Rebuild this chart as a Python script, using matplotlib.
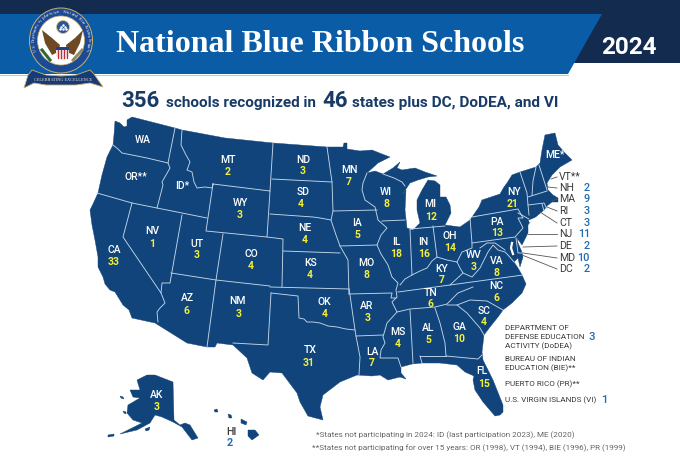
"""National Blue Ribbon Schools 2024 map, outlines traced in image pixels."""

import matplotlib
matplotlib.use("Agg")
import matplotlib.pyplot as plt
import numpy as np
from matplotlib.patches import Ellipse, Polygon, Circle

NAVY = "#132b4e"
SUBTITLE = "#173a66"
BANNER = "#0a5ca6"
MAP_BLUE = "#10447a"
BORDER = "#c3d5e8"
YELLOW = "#f4ee3a"
COUNT_BLUE = "#1f6cb0"
DARK_TEXT = "#3a3a3a"
FONT = "Roboto"

# Schools per state
STATES = ["WA", "OR**", "ID*", "MT", "ND", "SD", "WY", "NV", "UT", "CO", "CA", "AZ", "NM",
          "NE", "KS", "OK", "TX", "MN", "IA", "MO", "AR", "LA", "WI", "IL", "MI", "IN",
          "OH", "KY", "TN", "MS", "AL", "GA", "FL", "SC", "NC", "VA", "WV", "PA", "NY",
          "ME*", "AK"]
COUNTS = [None, None, None, 2, 3, 4, 3, 1, 3, 4, 33, 6, 3,
          4, 4, 4, 31, 7, 5, 8, 3, 7, 8, 18, 12, 16,
          14, 7, 6, 4, 5, 10, 15, 4, 6, 8, 3, 13, 21,
          None, 3]

SIDE_STATES = ["VT**", "NH", "MA", "RI", "CT", "NJ", "DE", "MD", "DC"]
SIDE_COUNTS = [None, 2, 9, 3, 3, 11, 2, 10, 2]

# Where the labels sit on the map (name xy, count xy)
LABEL_POS = {
    "WA": (143, 140, 0, 0), "OR**": (136, 177, 0, 0), "ID*": (182, 186, 0, 0),
    "MT": (228, 160, 228, 172), "ND": (303, 160, 303, 171), "SD": (303, 192, 301, 204),
    "WY": (240, 203, 240, 215), "NV": (152, 231, 152, 244), "UT": (197, 244, 197, 255),
    "CO": (251, 254, 251, 266), "CA": (114, 250, 114, 262), "AZ": (187, 298, 186, 311),
    "NM": (238, 301, 239, 314), "NE": (305, 228, 305, 240), "KS": (311, 263, 310, 275),
    "OK": (324, 302, 325, 314), "TX": (310, 350, 309, 363), "MN": (349, 170, 349, 182),
    "IA": (357, 223, 357, 235), "MO": (366, 263, 367, 275), "AR": (367, 306, 368, 318),
    "LA": (372, 352, 372, 363), "WI": (386, 192, 387, 204), "IL": (396, 242, 396, 254),
    "MI": (430, 204, 431, 217), "IN": (423, 242, 424, 254), "OH": (450, 236, 450, 248),
    "KY": (442, 269, 442, 280), "TN": (431, 293, 430, 304), "MS": (398, 332, 398, 344),
    "AL": (428, 328, 428, 340), "GA": (459, 327, 459, 339), "FL": (482, 371, 484, 384),
    "SC": (484, 311, 484, 322), "NC": (496, 286, 496, 298), "VA": (497, 261, 497, 273),
    "WV": (474, 255, 474, 267), "PA": (497, 222, 497, 233), "NY": (514, 192, 513, 204),
    "ME*": (555, 155, 0, 0), "AK": (157, 395, 157, 407),
}
SIDE_Y = [177, 188, 199, 211, 223, 234, 246, 258, 269]
LEADERS = [(551, 179), (548, 187), (552, 201), (547, 207), (540, 212),
           (528, 234), (523, 247), (523, 253), (522, 255)]

# Map geometry
MAINLAND = [
    (115, 121), (120, 123), (124, 127), (127, 126), (127, 120), (132, 117), (175, 128), (182, 130),
    (225, 138), (273, 143), (327, 147), (343, 147), (344, 143), (347, 143), (347, 149), (360, 151),
    (372, 150), (382, 154), (390, 157), (378, 163), (367, 173), (375, 171), (383, 174), (393, 168),
    (400, 162), (397, 168), (402, 170), (415, 168), (425, 172), (437, 176), (428, 177), (418, 180),
    (410, 183), (402, 195), (406, 190), (405, 210), (407, 228), (413, 230), (420, 223), (417, 210),
    (417, 200), (422, 190), (428, 180), (435, 181), (440, 185), (440, 197), (446, 197), (450, 205),
    (451, 213), (445, 225), (460, 227), (470, 220), (479, 207), (482, 200), (500, 194), (504, 187),
    (507, 183), (512, 175), (520, 172), (536, 167), (540, 163), (542, 150), (545, 135), (555, 133),
    (558, 145), (565, 153), (572, 160), (560, 167), (552, 175), (547, 183), (548, 190), (553, 195),
    (558, 198), (558, 202), (552, 202), (547, 206), (544, 210), (530, 222),
    (528, 225), (528, 233), (522, 245), (517, 238), (518, 243), (522, 252), (523, 257), (520, 267),
    (518, 258), (514, 262), (518, 268), (522, 275), (526, 284), (522, 293), (512, 303), (503, 310),
    (498, 317), (490, 327), (484, 335), (482, 352), (483, 360), (493, 380), (503, 405), (503, 412),
    (500, 415), (495, 416), (483, 402), (475, 390), (473, 380), (474, 376), (465, 372), (457, 365),
    (440, 363), (422, 363), (412, 364), (401, 367), (401, 373), (406, 379), (400, 377), (388, 380),
    (380, 375), (372, 376), (357, 375), (340, 382), (323, 395), (320, 407), (323, 420), (308, 416),
    (300, 402), (297, 393), (282, 373), (270, 372), (263, 380), (252, 373), (247, 358), (233, 345),
    (217, 343), (215, 347), (207, 347), (187, 343), (155, 323), (132, 318), (129, 310), (123, 305),
    (115, 292), (110, 290), (105, 284), (103, 277), (98, 267), (98, 257), (95, 240), (92, 225),
    (90, 210), (93, 204), (98, 193), (102, 175), (107, 157), (113, 145), (114, 135),
]
ALASKA = [
    (137, 380), (147, 375), (155, 375), (173, 382), (174, 420), (180, 425), (185, 423), (190, 425),
    (198, 438), (192, 440), (182, 427), (173, 422), (162, 417), (155, 415), (150, 423), (137, 430),
    (120, 434), (128, 430), (142, 423), (133, 420), (127, 413), (128, 405), (140, 398), (133, 397),
    (130, 390), (140, 390),
]
ISLANDS = [
    [(120, 396), (123, 397), (124, 399), (121, 398)],
    [(123, 411), (126, 412), (126, 414), (124, 413)],
    [(145, 429), (150, 427), (149, 430), (146, 431)],
    [(108, 435), (114, 434), (114, 436), (108, 437)],
    [(248, 430), (255, 430), (259, 435), (252, 440), (248, 436)],
    [(241, 419), (247, 422), (246, 425), (241, 423)],
    [(228, 414), (231, 415), (232, 418), (229, 418)],
    [(214, 410), (217, 409), (218, 412), (215, 412)],
]
BORDERS = [
    [(113, 145), (118, 149), (122, 153), (147, 158), (168, 163)],
    [(175, 128), (168, 163), (170, 168), (162, 182), (163, 185), (157, 208)],
    [(97, 193), (132, 203), (157, 208), (207, 218)],
    [(182, 130), (181, 145), (186, 155), (190, 162), (187, 170), (192, 172), (194, 182), (197, 188),
     (205, 187), (212, 188), (213, 184)],
    [(213, 184), (270, 191), (267, 237), (206, 231), (213, 184)],
    [(132, 203), (123, 237), (161, 293), (165, 303), (160, 308), (157, 312), (158, 322)],
    [(161, 293), (162, 283), (170, 283), (182, 215)],
    [(171, 273), (216, 280), (270, 286)],
    [(223, 234), (216, 280), (207, 347)],
    [(271, 293), (268, 345), (233, 343)],
    [(273, 143), (270, 191)],
    [(272, 179), (332, 182)],
    [(270, 214), (313, 217), (320, 218), (331, 220)],
    [(267, 237), (283, 239), (282, 287)],
    [(283, 251), (340, 253)],
    [(270, 287), (349, 289)],
    [(271, 293), (298, 296), (299, 318), (304, 319), (307, 322), (313, 322), (320, 323), (328, 326),
     (337, 327), (346, 329), (355, 330)],
    [(349, 289), (350, 295), (355, 330), (356, 336), (360, 357), (359, 375)],
    [(327, 147), (332, 182), (333, 211), (331, 220), (336, 235), (340, 246), (348, 260), (349, 294)],
    [(333, 211), (377, 210)],
    [(340, 246), (377, 245)],
    [(367, 173), (363, 183), (362, 190), (365, 200), (375, 207), (378, 220), (387, 228), (381, 235),
     (377, 245), (381, 254), (388, 265), (392, 277), (398, 283), (396, 290), (397, 297), (392, 302),
     (397, 312), (387, 323), (383, 337), (385, 343), (381, 350), (380, 358), (398, 358), (401, 367)],
    [(349, 294), (392, 293), (391, 298), (396, 298)],
    [(356, 336), (383, 335)],
    [(382, 221), (405, 220)],
    [(383, 174), (394, 178), (402, 182), (405, 186)],
    [(410, 229), (412, 275), (405, 279), (400, 285)],
    [(412, 275), (420, 271), (427, 268), (432, 261), (437, 257), (447, 260), (457, 262), (460, 268),
     (463, 273), (450, 285)],
    [(433, 226), (437, 257)],
    [(410, 229), (445, 226)],
    [(398, 292), (450, 285), (523, 275)],
    [(473, 287), (458, 293), (447, 304), (435, 307), (410, 309), (397, 312)],
    [(410, 310), (413, 363)],
    [(435, 308), (440, 323), (445, 343), (446, 356), (478, 359), (482, 355)],
    [(420, 356), (446, 356)],
    [(420, 356), (422, 363)],
    [(447, 305), (457, 305), (470, 300), (487, 301), (503, 310)],
    [(457, 305), (467, 313), (480, 328), (484, 335)],
    [(470, 218), (472, 243), (472, 248), (462, 252), (457, 262)],
    [(472, 217), (518, 209), (523, 218), (518, 218), (523, 228), (515, 237), (472, 243)],
    [(463, 273), (472, 277), (480, 268), (488, 252), (493, 245), (498, 250), (505, 252), (508, 255), (514, 262)],
    [(480, 248), (487, 243), (495, 243), (505, 250)],
    [(516, 238), (518, 253), (523, 253)],
    [(518, 213), (529, 219)],
    [(520, 172), (527, 193), (528, 205), (529, 215)],
    [(528, 197), (547, 191)],
    [(528, 205), (544, 203), (547, 209)],
    [(542, 204), (544, 211)],
    [(536, 167), (533, 181), (532, 195)],
    [(539, 165), (547, 190)],
]
WATER_CUTS = [
    [(530, 221), (537, 218), (543, 213)],
    [(512, 243), (511, 248), (513, 254)],
]

fig = plt.figure(figsize=(6.8, 4.75), dpi=100)
ax = fig.add_axes([0, 0, 1, 1])
ax.set_xlim(0, 680)
ax.set_ylim(475, 0)
ax.axis("off")


def draw_banner():
    ax.add_patch(Polygon([(0, 0), (680, 0), (680, 63), (0, 63)], fc=NAVY, ec="none", zorder=1))
    ax.add_patch(Polygon([(0, 14), (602, 14), (568, 74), (0, 74)], fc=BANNER, ec="none", zorder=2))
    ax.plot([0, 568], [74.5, 74.5], color="#a9d2f0", lw=0.8, zorder=2)
    ax.text(320.5, 45, "National Blue Ribbon Schools", family="Liberation Serif", weight="bold",
            fontsize=23, color="white", ha="center", va="center", zorder=3)
    ax.text(629, 47, "2024", family=FONT, weight="bold", fontsize=17.5, color="white",
            ha="center", va="center", zorder=3)


def draw_seal():
    cx, cy = 61, 40.5
    ax.add_patch(Ellipse((cx, cy), 63, 65, fc="#1d4a94", ec="#c9b26a", lw=0.7, zorder=4))
    ax.add_patch(Ellipse((cx, cy), 47, 49, fc="white", ec="#c9b26a", lw=0.5, zorder=5))
    ax.add_patch(Polygon([(42, 30), (52, 38), (60, 45), (58, 52), (52, 55), (45, 43)],
                         fc="#6d4a25", ec="none", zorder=6))
    ax.add_patch(Polygon([(83, 30), (75, 38), (66, 45), (67, 52), (74, 55), (80, 43)],
                         fc="#6d4a25", ec="none", zorder=6))
    ax.add_patch(Circle((63, 27), 6.5, fc="#2f5597", ec="#d8c67e", lw=0.6, zorder=6))
    ax.scatter([63, 61, 65, 60, 66, 63], [25, 27, 27, 29, 29, 29], s=0.6, c="white", zorder=7)
    ax.add_patch(Circle((60, 40), 3, fc="white", ec="none", zorder=7))
    ax.add_patch(Polygon([(56, 47), (69, 47), (69, 56), (62.5, 61), (56, 56)], fc="#f3e6e6", ec="none", zorder=7))
    ax.add_patch(Polygon([(56, 47), (69, 47), (69, 50), (56, 50)], fc="#23407f", ec="none", zorder=8))
    for x in (58, 61, 64, 67):
        ax.plot([x, x], [50, 58], color="#b5303a", lw=0.9, zorder=8)
    ax.plot([42, 50], [50, 60], color="#2f6b2f", lw=2.2, zorder=6)
    ax.plot([82, 73], [50, 60], color="#8f8668", lw=2.0, zorder=6)
    # ring lettering, one glyph at a time along the arc
    ring = "U.S. Department of Education   National Blue Ribbon Schools"
    angles = np.linspace(200, -20, len(ring))
    for ch, a in zip(ring, angles):
        t = np.radians(a)
        ax.text(cx + 27.5 * np.cos(t), cy - 28.5 * np.sin(t), ch, fontsize=2.8, color="white",
                family="Liberation Serif", rotation=a - 90, ha="center", va="center", zorder=6)
    ax.add_patch(Polygon([(32, 70), (46, 75), (61, 76), (76, 75), (90, 70), (94, 74), (103, 87), (90, 83),
                          (76, 85), (61, 85), (46, 85), (34, 83), (24, 88), (28, 75)],
                         fc="#173a78", ec="#c9b26a", lw=0.6, zorder=9))
    ax.text(63, 80, "CELEBRATING EXCELLENCE", fontsize=3.2, color="#e8e2c0", family="Liberation Serif",
            ha="center", va="center", zorder=10)


def draw_subtitle():
    parts = [(121, "356", 16), (166, "schools recognized in", 11), (322, "46", 16),
             (352, "states plus DC, DoDEA, and VI", 11.1)]
    for x, s, size in parts:
        ax.text(x, 107, s, family=FONT, weight="bold", fontsize=size, color=SUBTITLE, ha="left", va="baseline")


def draw_map():
    for shape in [MAINLAND, ALASKA] + ISLANDS:
        ax.add_patch(Polygon(shape, closed=True, fc=MAP_BLUE, ec=MAP_BLUE, lw=0.3, zorder=2))
    for line in BORDERS:
        xs, ys = zip(*line)
        ax.plot(xs, ys, color=BORDER, lw=0.65, solid_joinstyle="round", zorder=3)
    for line in WATER_CUTS:
        xs, ys = zip(*line)
        ax.plot(xs, ys, color="white", lw=1.6, zorder=3)


def draw_labels():
    for name, count in zip(STATES, COUNTS):
        nx, ny, cx, cy = LABEL_POS[name]
        ax.text(nx, ny, name, family=FONT, weight="medium", fontsize=7.5, color="white",
                ha="center", va="center", zorder=5)
        if count is not None:
            ax.text(cx, cy, str(count), family=FONT, weight="bold", fontsize=7.5, color=YELLOW,
                    ha="center", va="center", zorder=5)
    for name, count, y, start in zip(SIDE_STATES, SIDE_COUNTS, SIDE_Y, LEADERS):
        ax.plot([start[0], 557], [start[1], y], color="#555555", lw=0.6, zorder=4)
        ax.text(559, y, name, family=FONT, fontsize=7.6, color=DARK_TEXT, ha="left", va="center")
        if count is not None:
            ax.text(590, y, str(count), family=FONT, weight="medium", fontsize=7.8, color=COUNT_BLUE,
                    ha="right", va="center")
    ax.text(231, 432, "HI", family=FONT, weight="medium", fontsize=7.6, color=DARK_TEXT, ha="center", va="center")
    ax.text(230, 443, "2", family=FONT, weight="bold", fontsize=7.8, color=COUNT_BLUE, ha="center", va="center")


def draw_notes():
    rows = [(328, "DEPARTMENT OF"), (337, "DEFENSE EDUCATION"), (346, "ACTIVITY (DoDEA)"),
            (359, "BUREAU OF INDIAN"), (368, "EDUCATION (BIE)**"), (384, "PUERTO RICO (PR)**"),
            (400, "U.S. VIRGIN ISLANDS (VI)")]
    for y, s in rows:
        ax.text(505, y, s, family=FONT, fontsize=5.85, color=DARK_TEXT, ha="left", va="center")
    ax.text(592, 337, "3", family=FONT, weight="medium", fontsize=8.2, color=COUNT_BLUE, ha="center", va="center")
    ax.text(604, 400, "1", family=FONT, weight="medium", fontsize=8.2, color=COUNT_BLUE, ha="center", va="center")
    ax.text(316, 435, "*States not participating in 2024: ID (last participation 2023), ME (2020)",
            family=FONT, fontsize=5.85, color="#666666", ha="left", va="center")
    ax.text(312, 448, "**States not participating for over 15 years: OR (1998), VT (1994), BIE (1996), PR (1999)",
            family=FONT, fontsize=5.85, color="#666666", ha="left", va="center")


draw_banner()
draw_seal()
draw_subtitle()
draw_map()
draw_labels()
draw_notes()

fig.savefig("out.png", dpi=100)
